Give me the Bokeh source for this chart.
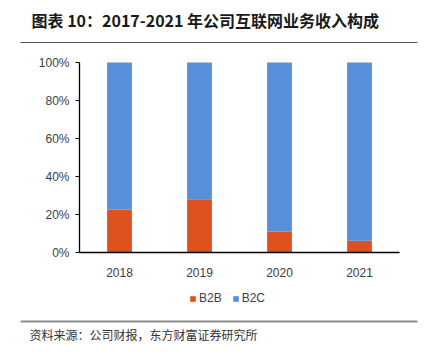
from bokeh.plotting import figure
from bokeh.models import (Range1d, Legend, LegendItem, NumeralTickFormatter,
                          FixedTicker, Label, BoxAnnotation)
from bokeh.embed import file_html
from bokeh.resources import INLINE

years = ["2018", "2019", "2020", "2021"]
b2b = [0.226, 0.280, 0.110, 0.062]
b2c = [0.774, 0.720, 0.890, 0.938]
series = ["B2B", "B2C"]
colors = ["#DF511F", "#5590D8"]
y_ticks = [0, 0.2, 0.4, 0.6, 0.8, 1.0]

title_text = "图表 10：2017-2021 年公司互联网业务收入构成"
source_text = "资料来源：公司财报，东方财富证券研究所"

CJK = "Noto Sans CJK SC"
LAT = "Liberation Sans"

W, H = 429, 357
# plot area: x=0 at canvas 79, one category = 80 px; y=0 at canvas 252, y=1 at canvas 62
X0, XU = 79, 80
Y0, YU = 252, 190
x_range = Range1d(-X0 / XU, (W - X0) / XU)
y_range = Range1d((Y0 - H) / YU, Y0 / YU)

p = figure(width=W, height=H, x_range=x_range, y_range=y_range,
           output_backend="svg", toolbar_location=None,
           min_border=0, min_border_left=0, min_border_right=0,
           min_border_top=0, min_border_bottom=0)
p.outline_line_color = None
p.grid.visible = False

xs = [i + 0.5 for i in range(len(years))]
src = dict(x=xs, B2B=b2b, B2C=b2c)
rs = p.vbar_stack(series, x="x", width=0.31, color=colors, line_color=None, source=src)

p.yaxis.fixed_location = 0
p.yaxis.bounds = (0, 1)
p.yaxis.ticker = FixedTicker(ticks=y_ticks)
p.yaxis.formatter = NumeralTickFormatter(format="0%")
p.yaxis.major_tick_out = 4
p.yaxis.major_tick_in = 0
p.yaxis.minor_tick_line_color = None
p.yaxis.major_label_standoff = 6
p.yaxis.major_tick_line_color = "#000000"

p.xaxis.fixed_location = 0
p.xaxis.bounds = (0, len(years))
p.xaxis.ticker = FixedTicker(ticks=xs)
p.xaxis.major_label_overrides = {x: y for x, y in zip(xs, years)}
p.xaxis.major_tick_line_color = None
p.xaxis.minor_tick_line_color = None
p.xaxis.major_label_standoff = 9
for ax in (p.xaxis, p.yaxis):
    ax.axis_line_color = "#000000"
    ax.axis_line_width = 1.3
    ax.major_label_text_font = LAT
    ax.major_label_text_font_size = "12px"
    ax.major_label_text_color = "#404040"

legend = Legend(items=[LegendItem(label=s, renderers=[r]) for s, r in zip(series, rs)],
                orientation="horizontal", location=(189, 52),
                glyph_width=7, glyph_height=7, label_standoff=3, spacing=10,
                padding=0, margin=0, border_line_color=None, background_fill_alpha=0,
                label_text_font=LAT, label_text_font_size="12px", label_text_color="#404040")
p.add_layout(legend, "center")

# header / footer (screen units, origin at bottom-left of the canvas-wide frame)
p.add_layout(Label(x=31, y=H - 19, x_units="screen", y_units="screen", text=title_text,
                   text_font=CJK, text_font_style="bold", text_font_size="16px",
                   text_color="#1a1a1a", text_baseline="middle", text_align="left"))
p.add_layout(BoxAnnotation(left=20, right=417, bottom=H - 42.6, top=H - 41.4,
                           left_units="screen", right_units="screen",
                           bottom_units="screen", top_units="screen",
                           fill_color="#555555", fill_alpha=1, line_color=None))
p.add_layout(BoxAnnotation(left=20, right=417, bottom=H - 322, top=H - 320,
                           left_units="screen", right_units="screen",
                           bottom_units="screen", top_units="screen",
                           fill_color="#8c8c8c", fill_alpha=1, line_color=None))
p.add_layout(Label(x=29, y=H - 334, x_units="screen", y_units="screen", text=source_text,
                   text_font=CJK, text_font_size="12px", text_color="#333333",
                   text_baseline="middle", text_align="left"))

open("out.html", "w").write(file_html(p, INLINE))
